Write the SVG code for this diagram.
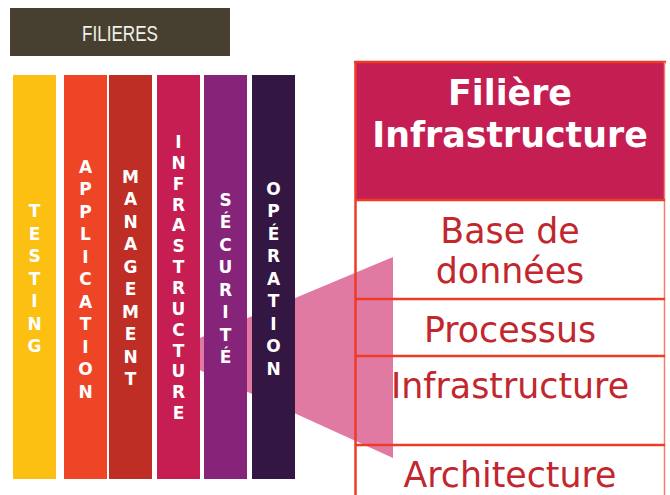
<svg xmlns="http://www.w3.org/2000/svg" width="670" height="495" viewBox="0 0 670 495">
<style>
.bar text{font-family:"DejaVu Sans",Verdana,sans-serif;font-weight:bold;font-size:17px;fill:#ffffff;text-anchor:middle}
.hdr{font-family:"DejaVu Sans",Verdana,sans-serif;font-weight:bold;font-size:34.8px;fill:#ffffff;text-anchor:middle}
.row{font-family:"DejaVu Sans",Verdana,sans-serif;font-size:34.8px;fill:#C1272D;text-anchor:middle}
.ln{stroke:#EE3B26;stroke-width:2.5;fill:none}
</style>
<rect width="670" height="495" fill="#ffffff"/>
<g id="title">
<rect x="10" y="8" width="220" height="48" fill="#474030"/>
<text x="120" y="40.5" font-family="Liberation Sans,Arial,sans-serif" font-size="22.5" fill="#F2F0EA" text-anchor="middle" textLength="76" lengthAdjust="spacingAndGlyphs">FILIERES</text>
</g>
<g id="table-bg">
<rect x="355" y="62" width="310" height="138" fill="#C51E52"/>
</g>
<polygon id="zoom-shape" points="195,340 393,257 393,458 195,368" fill="#E07AA3"/>
<g id="bar-testing" class="bar">
<rect x="13" y="75" width="43" height="404" fill="#FBC012"/>
<text><tspan x="34.5" y="217">T</tspan><tspan x="34.5" y="239.5">E</tspan><tspan x="34.5" y="262">S</tspan><tspan x="34.5" y="284.5">T</tspan><tspan x="34.5" y="307">I</tspan><tspan x="34.5" y="329.5">N</tspan><tspan x="34.5" y="352">G</tspan></text>
</g>
<g id="bar-application" class="bar">
<rect x="64" y="75" width="43" height="404" fill="#EF4527"/>
<text><tspan x="85.5" y="172.5">A</tspan><tspan x="85.5" y="195">P</tspan><tspan x="85.5" y="217.5">P</tspan><tspan x="85.5" y="240">L</tspan><tspan x="85.5" y="262.5">I</tspan><tspan x="85.5" y="285">C</tspan><tspan x="85.5" y="307.5">A</tspan><tspan x="85.5" y="330">T</tspan><tspan x="85.5" y="352.5">I</tspan><tspan x="85.5" y="375">O</tspan><tspan x="85.5" y="397.5">N</tspan></text>
</g>
<g id="bar-management" class="bar">
<rect x="109" y="75" width="43" height="404" fill="#BE2E25"/>
<text><tspan x="130.5" y="182.5">M</tspan><tspan x="130.5" y="205">A</tspan><tspan x="130.5" y="227.5">N</tspan><tspan x="130.5" y="250">A</tspan><tspan x="130.5" y="272.5">G</tspan><tspan x="130.5" y="295">E</tspan><tspan x="130.5" y="317.5">M</tspan><tspan x="130.5" y="340">E</tspan><tspan x="130.5" y="362.5">N</tspan><tspan x="130.5" y="385">T</tspan></text>
</g>
<g id="bar-infrastructure" class="bar">
<rect x="157" y="75" width="43" height="404" fill="#C61E52"/>
<text><tspan x="178.5" y="148">I</tspan><tspan x="178.5" y="168.85">N</tspan><tspan x="178.5" y="189.7">F</tspan><tspan x="178.5" y="210.55">R</tspan><tspan x="178.5" y="231.4">A</tspan><tspan x="178.5" y="252.25">S</tspan><tspan x="178.5" y="273.1">T</tspan><tspan x="178.5" y="293.95">R</tspan><tspan x="178.5" y="314.8">U</tspan><tspan x="178.5" y="335.65">C</tspan><tspan x="178.5" y="356.5">T</tspan><tspan x="178.5" y="377.35">U</tspan><tspan x="178.5" y="398.2">R</tspan><tspan x="178.5" y="419">E</tspan></text>
</g>
<g id="bar-securite" class="bar">
<rect x="204" y="75" width="43" height="404" fill="#852478"/>
<text><tspan x="225.5" y="205.5">S</tspan><tspan x="225.5" y="228">É</tspan><tspan x="225.5" y="250.5">C</tspan><tspan x="225.5" y="273">U</tspan><tspan x="225.5" y="295.5">R</tspan><tspan x="225.5" y="318">I</tspan><tspan x="225.5" y="340.5">T</tspan><tspan x="225.5" y="363">É</tspan></text>
</g>
<g id="bar-operation" class="bar">
<rect x="252" y="75" width="43" height="404" fill="#331641"/>
<text><tspan x="273.5" y="194.5">O</tspan><tspan x="273.5" y="217">P</tspan><tspan x="273.5" y="239.5">É</tspan><tspan x="273.5" y="262">R</tspan><tspan x="273.5" y="284.5">A</tspan><tspan x="273.5" y="307">T</tspan><tspan x="273.5" y="329.5">I</tspan><tspan x="273.5" y="352">O</tspan><tspan x="273.5" y="374.5">N</tspan></text>
</g>
<g id="connectors">
<line class="ln" x1="354" y1="62" x2="666" y2="62"/>
<line class="ln" x1="355.5" y1="62" x2="355.5" y2="495"/>
<line x1="664.5" y1="62" x2="664.5" y2="495" stroke="#F27F6C" stroke-width="1.5"/>
<line class="ln" x1="355" y1="200" x2="665" y2="200"/>
<line class="ln" x1="355" y1="299" x2="665" y2="299"/>
<line class="ln" x1="355" y1="356" x2="665" y2="356"/>
<line class="ln" x1="355" y1="445" x2="665" y2="445"/>
</g>
<g id="header">
<text class="hdr" x="510" y="105">Filière</text>
<text class="hdr" x="510" y="147">Infrastructure</text>
</g>
<g id="row-bdd"><text class="row" x="510" y="243">Base de</text><text class="row" x="510" y="283">données</text></g>
<g id="row-processus"><text class="row" x="510" y="342">Processus</text></g>
<g id="row-infrastructure"><text class="row" x="510" y="398">Infrastructure</text></g>
<g id="row-architecture"><text class="row" x="510" y="487">Architecture</text></g>
</svg>
